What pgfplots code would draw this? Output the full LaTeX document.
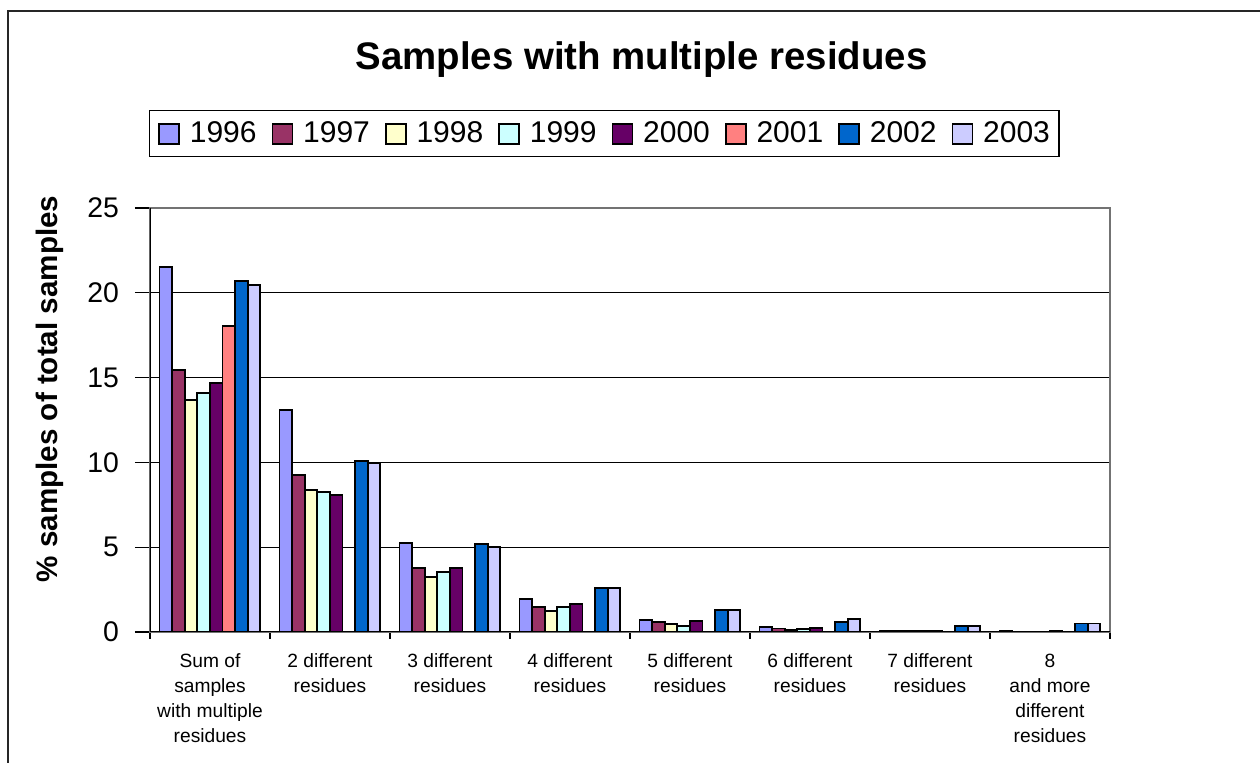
\documentclass[border=0pt]{standalone}
\usepackage{fontspec}
\setmainfont{Liberation Sans}
\usepackage{pgfplots}
\pgfplotsset{compat=1.18}
\definecolor{c96}{HTML}{9999FF}
\definecolor{c97}{HTML}{993366}
\definecolor{c98}{HTML}{FFFFCC}
\definecolor{c99}{HTML}{CCFFFF}
\definecolor{c00}{HTML}{660066}
\definecolor{c01}{HTML}{FF8080}
\definecolor{c02}{HTML}{0066CC}
\definecolor{c03}{HTML}{CCCCFF}
\begin{document}
\begin{tikzpicture}
\useasboundingbox (0,0) rectangle (630pt,381.5pt);
\fill[white] (0,0) rectangle (630pt,381.5pt);
\draw[black!85, line width=0.8pt] (4pt,0) -- (4pt,376pt) -- (630pt,376pt);
\node[font=\bfseries\fontsize{19.2}{23}\selectfont] at (320.75pt,351.5pt) {Samples with multiple residues};
\node[font=\bfseries\fontsize{14.8}{17}\selectfont, rotate=90] at (25pt,187pt) {\% samples of total samples};
\begin{axis}[
  at={(75pt,65.5pt)}, anchor=south west,
  scale only axis, width=480pt, height=212pt,
  xmin=-0.5, xmax=7.5, ymin=0, ymax=25,
  ybar=0pt, bar width=6.3pt,
  ytick={0,5,10,15,20,25},
  ytick pos=left,
  tick align=outside,
  major tick length=7.5pt,
  minor tick length=3.5pt,
  xtick={0,...,7},
  xticklabels={{Sum of\\samples\\with multiple\\residues},{2 different\\residues},{3 different\\residues},{4 different\\residues},{5 different\\residues},{6 different\\residues},{7 different\\residues},{8\\and more\\different\\residues}},
  minor xtick={-0.5,0.5,...,7.5},
  major x tick style={draw=none},
  minor x tick style={black, line width=0.6pt},
  major y tick style={black, line width=0.6pt},
  xtick pos=bottom,
  xticklabel style={align=center, font=\fontsize{9.6}{12.5}\selectfont},
  yticklabel style={font=\fontsize{14.2}{16}\selectfont, xshift=-4.5pt},
  /pgf/number format/assume math mode=true,
  ymajorgrids, grid style={black, line width=0.5pt},
  axis line style={draw=black!55, line width=0.8pt},
  legend columns=8,
  legend style={at={(axis description cs:0.473,1.175)}, anchor=center,
    draw=black, line width=0.6pt, inner xsep=4.5pt, inner ysep=5.5pt,
    font=\fontsize{15}{18}\selectfont,
    nodes={inner sep=0pt},
    /tikz/every odd column/.append style={column sep=5pt},
    /tikz/every even column/.append style={column sep=7.5pt}},
  legend image code/.code={\draw[#1, line width=0.8pt] (0pt,-5pt) rectangle (10pt,5pt);},
  every axis plot/.append style={draw=black, line width=0.9pt},
]
\addplot[fill=c96] coordinates {(0,21.5) (1,13.1) (2,5.27) (3,1.95) (4,0.69) (5,0.30) (6,0.07) (7,0.04)};
\addplot[fill=c97] coordinates {(0,15.45) (1,9.26) (2,3.75) (3,1.45) (4,0.57) (5,0.20) (6,0.04) (7,0.02)};
\addplot[fill=c98] coordinates {(0,13.68) (1,8.35) (2,3.24) (3,1.26) (4,0.47) (5,0.13) (6,0.04) (7,0.02)};
\addplot[fill=c99] coordinates {(0,14.07) (1,8.25) (2,3.56) (3,1.45) (4,0.37) (5,0.16) (6,0.06) (7,0.03)};
\addplot[fill=c00] coordinates {(0,14.7) (1,8.08) (2,3.75) (3,1.65) (4,0.67) (5,0.25) (6,0.07) (7,0.06)};
\addplot[fill=c01] coordinates {(0,18.04)};
\addplot[fill=c02] coordinates {(0,20.71) (1,10.08) (2,5.19) (3,2.57) (4,1.28) (5,0.60) (6,0.35) (7,0.50)};
\addplot[fill=c03] coordinates {(0,20.48) (1,9.93) (2,5.03) (3,2.57) (4,1.28) (5,0.78) (6,0.35) (7,0.50)};
\legend{1996,1997,1998,1999,2000,2001,2002,2003}
\draw[black, line width=0.8pt] (rel axis cs:0,1) -- (rel axis cs:0,0) -- (rel axis cs:1,0);
\end{axis}
\end{tikzpicture}
\end{document}
